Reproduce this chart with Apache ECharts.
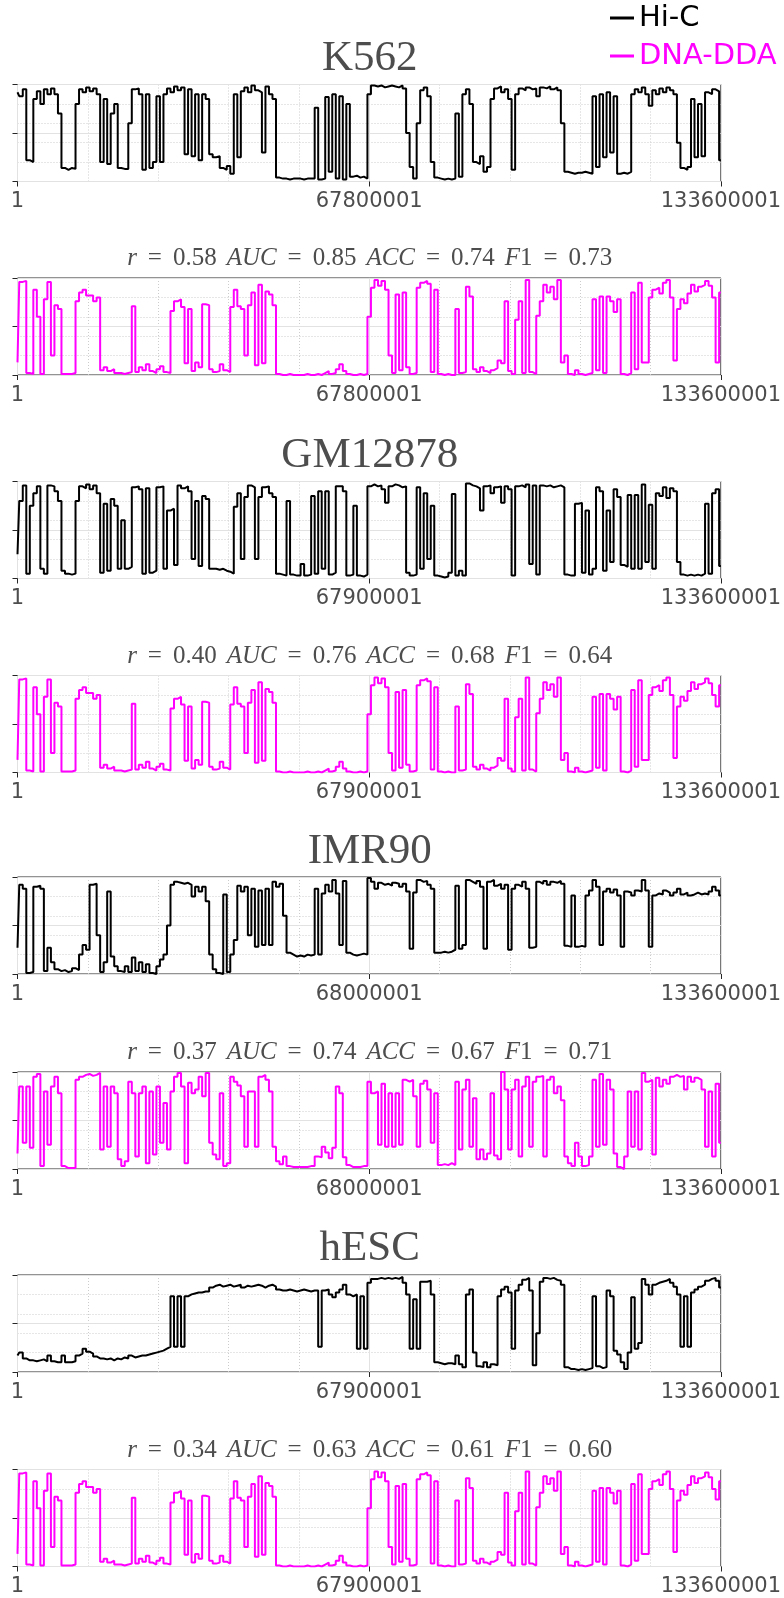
<!DOCTYPE html>
<html><head><meta charset="utf-8">
<script src="https://cdn.jsdelivr.net/npm/echarts@6/dist/echarts.min.js"></script>
<style>html,body{margin:0;padding:0;background:#fff}#c{width:784px;height:1598px}</style>
</head><body><div id="c"></div>
<script>
// ---- data (values scaled 0..100, 201 evenly spaced bins along the chromosome) ----
const cellLines = ['K562', 'GM12878', 'IMR90', 'hESC'];
const ticksK562 = ['1', '67800001', '133600001'];
const ticksGM12878 = ['1', '67900001', '133600001'];
const ticksIMR90 = ['1', '68000001', '133600001'];
const ticksHESC = ['1', '67900001', '133600001'];
const rValues = ['0.58', '0.40', '0.37', '0.34'];
const aucValues = ['0.85', '0.76', '0.74', '0.63'];
const accValues = ['0.74', '0.68', '0.67', '0.61'];
const f1Values = ['0.73', '0.64', '0.71', '0.60'];

const hicK562 = [92,88,95,22,20,85,93,80,95,90, 96,90,70,14,12,14,13,80,95,92, 97,93,96,90,20,85,18,70,80,14,
 13,13,60,95,96,90,12,90,14,20, 88,20,90,96,92,98,94,97,28,95, 26,90,22,90,85,28,25,26,14,12,
 16,8,90,25,93,97,92,99,94,92, 30,98,90,85,4,3,3,2,3,3, 3,2,3,3,3,76,2,3,87,10,
 90,3,88,2,80,5,6,4,5,3, 90,99,98,99,97,98,99,98,97,99, 96,50,15,3,60,94,97,88,20,4,
 3,2,3,2,3,70,5,90,95,80, 20,18,26,10,15,85,96,98,92,95, 85,12,90,96,94,97,95,96,88,97,
 96,98,95,97,94,60,10,9,8,9, 9,10,9,8,88,15,90,25,92,30, 88,8,9,8,10,90,95,92,97,90,
 78,94,90,96,92,97,94,90,40,14, 12,15,85,25,80,26,92,90,95,93, 22];
const ddaK562 = [13,96,97,2,1,88,60,1,78,96, 20,72,68,1,1,1,2,76,85,88, 82,82,76,80,5,8,4,6,2,2,
 1,2,3,71,3,8,5,11,4,2, 6,9,3,2,66,76,78,70,12,68, 4,13,8,73,72,6,3,4,11,5,
 3,70,88,71,68,20,72,85,10,93, 12,86,83,72,1,0,0,1,0,0, 0,0,1,0,0,1,0,2,4,1,
 2,6,11,4,1,0,0,1,0,1, 60,90,98,92,97,88,20,2,83,5, 85,8,1,2,90,95,97,94,3,88,
 1,0,1,0,0,68,2,3,91,81, 6,3,8,4,2,5,7,15,12,76, 4,1,57,76,2,98,3,1,61,76,
 93,85,91,78,98,13,20,1,0,5, 1,0,1,2,78,5,81,2,81,76, 65,78,1,0,2,85,6,95,13,13,
 80,88,90,84,95,98,80,15,68,78, 74,84,93,86,91,93,97,92,80,13, 85];
const hicGM12878 = [25,80,96,5,75,88,95,10,5,96, 95,90,80,8,5,4,5,80,95,93, 97,92,96,88,6,77,8,82,75,10,
 60,10,12,94,95,92,5,93,6,8, 94,95,10,70,72,14,96,93,95,90, 20,80,13,85,82,10,10,9,10,8,
 7,5,74,88,20,84,96,94,20,84, 94,95,88,84,5,4,3,80,4,3, 3,15,3,4,85,5,90,10,90,4,
 6,95,95,90,3,4,75,3,2,4, 95,97,95,96,92,78,95,97,96,94, 95,6,3,4,94,10,88,20,75,3,
 2,1,2,6,87,3,8,3,98,96, 95,93,70,95,96,88,94,95,78,95, 92,3,95,96,94,97,15,96,4,96,
 95,96,94,95,96,94,4,3,3,77, 78,6,70,4,10,94,90,8,70,17, 92,84,14,12,86,10,86,10,97,17,
 76,10,88,85,94,83,93,90,17,4, 3,4,3,4,3,5,77,5,88,92, 13];
const ddaGM12878 = [13,96,97,2,1,88,60,1,78,96, 20,72,68,1,1,1,2,76,85,88, 82,82,76,80,5,8,4,6,2,2,
 1,2,3,71,3,8,5,11,4,2, 6,9,3,2,66,76,78,70,12,68, 4,13,8,73,72,6,3,4,11,5,
 3,70,88,71,68,20,72,85,10,93, 12,86,83,72,1,0,0,1,0,0, 0,0,1,0,0,1,0,2,4,1,
 2,6,11,4,1,0,0,1,0,1, 60,90,98,92,97,88,20,2,83,5, 85,8,1,2,90,95,97,94,3,88,
 1,0,1,0,0,68,2,3,91,81, 6,3,8,4,2,5,7,15,12,76, 4,1,57,76,2,98,3,1,61,76,
 93,85,91,78,98,13,20,1,0,5, 1,0,1,2,78,5,81,2,81,76, 65,78,1,0,2,85,6,95,13,13,
 80,88,90,84,95,98,80,15,68,78, 74,84,93,86,91,93,97,92,80,68, 90];
const hicIMR90 = [27,92,88,1,2,90,91,88,3,27, 12,5,3,4,2,3,6,4,20,30, 25,92,93,40,2,12,85,18,8,3,
 2,8,2,17,3,12,2,10,1,0, 8,15,20,50,92,95,94,93,94,92, 80,90,85,90,75,20,5,1,0,82,
 2,20,35,91,85,90,40,88,28,86, 30,88,30,95,90,93,60,22,20,18, 19,18,20,19,20,88,20,83,92,85,
 97,83,30,96,22,20,19,20,21,20, 99,95,88,94,92,93,91,94,93,90, 93,85,26,84,97,95,96,92,88,22,
 22,23,22,23,25,91,26,30,97,95, 93,96,90,26,95,97,91,93,88,92, 25,88,92,90,95,88,27,28,95,93,
 96,92,95,94,96,93,29,28,81,28, 29,28,81,86,97,90,30,85,88,84, 87,81,28,85,84,81,86,85,97,86,
 28,81,83,82,86,84,81,84,88,82, 84,81,82,84,82,83,82,85,90,86, 81];
const ddaIMR90 = [16,85,27,85,22,95,98,3,80,25, 85,95,78,3,1,1,1,92,95,97, 98,96,97,99,20,85,23,85,78,10,
 3,8,90,78,13,78,85,6,80,15, 85,27,68,20,80,95,99,85,6,89, 78,82,95,75,99,27,15,10,78,3,
 6,95,90,86,75,23,80,80,23,95, 97,92,80,23,8,5,13,3,2,2, 2,2,2,3,3,13,12,23,17,11,
 22,85,78,12,4,2,2,2,3,3, 90,78,80,25,88,23,78,23,78,25, 92,90,92,75,23,88,91,82,27,78,
 4,5,4,6,4,90,20,82,92,23, 73,10,20,10,16,78,14,10,100,82, 20,82,92,13,85,95,23,90,95,96,
 13,92,95,78,85,71,13,6,3,27, 13,3,4,13,92,23,98,25,92,82, 16,2,0,13,80,23,80,20,99,90,
 92,15,94,85,92,88,95,97,95,96, 82,95,90,94,92,82,23,80,13,88, 27];
const hicHESC = [17,20,14,12,12,11,12,13,11,17, 11,10,10,17,10,10,11,17,19,24, 21,19,16,14,14,13,14,12,14,13,
 15,14,17,15,16,17,17,18,19,20, 21,22,24,26,78,26,78,26,78,80, 81,82,82,83,83,87,89,90,88,89,
 90,88,89,90,87,89,88,89,90,89, 87,89,90,88,85,84,84,85,84,83, 84,85,84,83,84,84,26,84,85,80,
 77,82,85,90,80,78,80,24,78,24, 92,96,96,97,96,97,96,97,96,98, 92,80,24,75,24,93,93,94,80,10,
 9,8,9,9,8,17,8,5,80,85, 20,6,5,10,5,8,7,78,85,88, 82,24,84,90,95,97,84,7,40,93,
 97,96,97,95,94,90,5,3,3,2, 3,2,3,4,78,6,4,5,84,78, 22,18,10,3,20,77,24,30,96,90,
 80,90,92,93,94,96,92,88,80,26, 78,26,82,85,88,90,94,96,97,94, 87];
const ddaHESC = [13,96,97,2,1,88,60,1,78,96, 20,72,68,1,1,1,2,76,85,88, 82,82,76,80,5,8,4,6,2,2,
 1,2,3,71,3,8,5,11,4,2, 6,9,3,2,66,76,78,70,12,68, 4,13,8,73,72,6,3,4,11,5,
 3,70,88,71,68,20,72,85,10,93, 12,86,83,72,1,0,0,1,0,0, 0,0,1,0,0,1,0,2,4,1,
 2,6,11,4,1,0,0,1,0,1, 60,90,98,92,97,88,20,2,83,5, 85,8,1,2,90,95,97,94,3,88,
 1,0,1,0,0,68,2,3,91,81, 6,3,8,4,2,5,7,15,12,76, 4,1,57,76,2,98,3,1,61,76,
 93,85,91,78,98,13,20,1,0,5, 1,0,1,2,78,5,81,2,81,76, 65,78,1,0,2,85,6,95,13,13,
 80,88,90,84,95,98,80,15,68,78, 74,84,93,86,91,93,97,92,80,69, 88];

// ---- panels ----
const panels = [
  {name: 'Hi-C', data: hicK562, ticks: ticksK562, cell: 0},
  {name: 'DNA-DDA', data: ddaK562, ticks: ticksK562, cell: 0},
  {name: 'Hi-C', data: hicGM12878, ticks: ticksGM12878, cell: 1},
  {name: 'DNA-DDA', data: ddaGM12878, ticks: ticksGM12878, cell: 1},
  {name: 'Hi-C', data: hicIMR90, ticks: ticksIMR90, cell: 2},
  {name: 'DNA-DDA', data: ddaIMR90, ticks: ticksIMR90, cell: 2},
  {name: 'Hi-C', data: hicHESC, ticks: ticksHESC, cell: 3},
  {name: 'DNA-DDA', data: ddaHESC, ticks: ticksHESC, cell: 3}
];

// ---- layout / style ----
const gridTops = [84.5, 278, 481.5, 675.5, 877, 1072, 1275, 1469.5];
const headY = [59, 258, 456, 656, 852, 1052, 1249, 1450];
const gridLeft = 17.5, gridWidth = 704.5, gridHeight = 97;
const centerX = gridLeft + gridWidth / 2;
const seriesColors = {'Hi-C': '#000000', 'DNA-DDA': '#ff00ff'};
const gray = '#4d4d4d';
const frame = '#262626';

const grids = [], xAxes = [], yAxes = [], series = [], titles = [];
panels.forEach((p, k) => {
  const n = p.data.length - 1;
  grids.push({left: gridLeft, top: gridTops[k], width: gridWidth, height: gridHeight,
    show: true, borderColor: frame, borderWidth: 1, backgroundColor: 'rgba(0,0,0,0)'});
  xAxes.push({gridIndex: k, type: 'value', position: 'bottom', min: 0, max: n, interval: n / 10,
    axisLine: {show: false}, axisTick: {show: false},
    splitLine: {show: true, lineStyle: {color: '#cccccc', type: [1, 2], width: 1}},
    axisLabel: {show: true, margin: 10, color: gray, fontFamily: 'DejaVu Sans', fontSize: 21,
      showMinLabel: true, showMaxLabel: true,
      formatter: v => v === 0 ? p.ticks[0] : (v === n / 2 ? p.ticks[1] : (v === n ? p.ticks[2] : ''))}});
  xAxes.push({gridIndex: k, type: 'value', position: 'top', min: 0, max: n, interval: n / 2, z: 1,
    axisLine: {show: false}, axisLabel: {show: false},
    axisTick: {show: true, inside: true, length: 5, lineStyle: {color: frame}},
    splitLine: {show: true, lineStyle: {color: '#e2e2e2', width: 1}}});
  xAxes.push({gridIndex: k, type: 'value', position: 'bottom', min: 0, max: n, interval: n / 2,
    axisLine: {show: false}, axisLabel: {show: false}, splitLine: {show: false},
    axisTick: {show: true, inside: true, length: 5, lineStyle: {color: frame}}});
  yAxes.push({gridIndex: k, type: 'value', position: 'left', min: 0, max: 100, interval: 20,
    axisLine: {show: false}, axisTick: {show: false}, axisLabel: {show: false},
    splitLine: {show: true, lineStyle: {color: '#cccccc', type: [1, 2], width: 1}}});
  yAxes.push({gridIndex: k, type: 'value', position: 'right', min: 0, max: 100, interval: 50, z: 1,
    axisLine: {show: false}, axisLabel: {show: false},
    axisTick: {show: true, inside: true, length: 5, lineStyle: {color: frame}},
    splitLine: {show: true, lineStyle: {color: '#e2e2e2', width: 1}}});
  yAxes.push({gridIndex: k, type: 'value', position: 'left', min: 0, max: 100, interval: 50,
    axisLine: {show: false}, axisLabel: {show: false}, splitLine: {show: false},
    axisTick: {show: true, inside: true, length: 5, lineStyle: {color: frame}}});
  const c = seriesColors[p.name];
  series.push({type: 'line', name: p.name, xAxisIndex: k * 3, yAxisIndex: k * 3, step: 'middle',
    data: p.data.map((v, i) => [i, v]), showSymbol: false, symbol: 'none', z: 3,
    color: c, lineStyle: {color: c, width: 2}, itemStyle: {color: c}, animation: false});
  const ci = p.cell;
  if (p.name === 'Hi-C') {
    titles.push({text: cellLines[ci], left: centerX, top: headY[k], textAlign: 'center',
      textVerticalAlign: 'middle', padding: 0,
      textStyle: {fontFamily: 'Liberation Serif', fontSize: 43, fontWeight: 'normal', color: gray}});
  } else {
    const base = {fontFamily: 'Liberation Serif', fontSize: 25, color: gray, fontWeight: 'normal'};
    titles.push({text: '{i|r}{e|=}{n|' + rValues[ci] + '}{i|AUC}{e|=}{n|' + aucValues[ci] +
        '}{i|ACC}{e|=}{n|' + accValues[ci] + '}{i|F}{d|1}{e|=}{d|' + f1Values[ci] + '}',
      left: centerX, top: headY[k], textAlign: 'center', textVerticalAlign: 'middle', padding: 0,
      textStyle: {fontFamily: 'Liberation Serif', fontSize: 25, color: gray, fontWeight: 'normal',
        rich: {
          i: Object.assign({}, base, {fontStyle: 'italic'}),
          e: Object.assign({}, base, {width: 36, align: 'center'}),
          n: Object.assign({}, base, {padding: [0, 10, 0, 0]}),
          d: Object.assign({}, base)
        }}});
  }
});

const chart = echarts.init(document.getElementById('c'), null, {renderer: 'canvas'});
chart.setOption({
  animation: false,
  backgroundColor: '#ffffff',
  color: ['#000000', '#ff00ff'],
  title: titles,
  legend: {orient: 'vertical', left: 610, top: 3, padding: 0, itemWidth: 24, itemHeight: 3, itemGap: 8,
    icon: 'rect', selectedMode: false,
    textStyle: {fontFamily: 'DejaVu Sans', fontSize: 29, lineHeight: 30},
    data: [{name: 'Hi-C', textStyle: {color: '#000000'}}, {name: 'DNA-DDA', textStyle: {color: '#ff00ff'}}]},
  grid: grids, xAxis: xAxes, yAxis: yAxes, series: series
});
</script></body></html>
